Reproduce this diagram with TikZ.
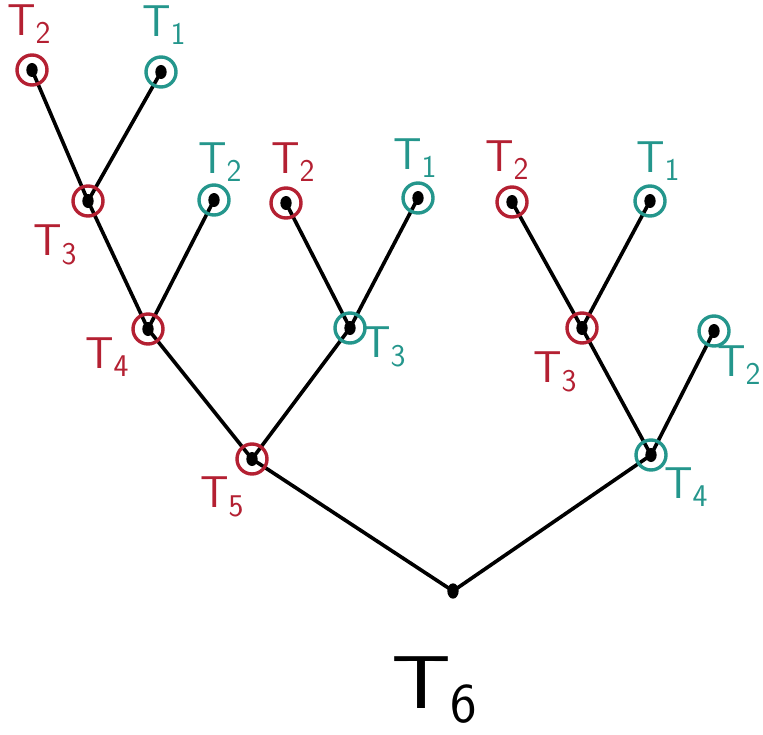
\documentclass[tikz,border=0pt]{standalone}
\usepackage{tikz}
\usetikzlibrary{positioning, backgrounds, shapes.geometric}

\definecolor{tred}{RGB}{180,32,50}
\definecolor{tteal}{RGB}{36,150,140}

% tree label: T with lowered index
\newcommand{\tlab}[1]{T\kern-0.5pt\raisebox{-0.45ex}{\fontsize{27}{27}\selectfont #1}}

\begin{document}
\begin{tikzpicture}[x=0.03cm, y=-0.03cm,
  vtx/.style={circle, inner sep=0pt, minimum size=0.9cm, line width=2.9pt,
              path picture={\fill[black] (path picture bounding box.center) ellipse (0.17cm and 0.21cm);}},
  redv/.style={vtx, draw=tred},
  tealv/.style={vtx, draw=tteal},
  rootv/.style={ellipse, fill=black, inner sep=0pt, minimum width=0.34cm, minimum height=0.46cm},
  edge/.style={line width=3.1pt, black},
  lbl/.style={font=\sffamily\fontsize{38}{38}\selectfont, inner sep=0pt},
  lred/.style={lbl, text=tred},
  lteal/.style={lbl, text=tteal},
]
\useasboundingbox (0,0) rectangle (763,734);

% Root
\node[rootv] (root) at (453,591) {};
\node[font=\sffamily\fontsize{64}{64}\selectfont, inner sep=0pt] (troot) at (434,690)
  {\scalebox{1.25}[1]{T}\kern-1pt\raisebox{-0.45ex}{\fontsize{48}{48}\selectfont 6}};

% Left subtree
\node[redv] (a5) at (252,459) {};
\node[redv] (a4) at (148,329) {};
\node[tealv] (a3t) at (350,328) {};
\node[redv] (a3) at (88,201) {};
\node[tealv] (a2t) at (214,200) {};
\node[redv] (l1) at (32,70) {};
\node[tealv] (l2) at (161,72) {};
\node[redv] (m1) at (286,203) {};
\node[tealv] (m2) at (418,198) {};

% Right subtree
\node[tealv] (b4) at (651,455) {};
\node[redv] (b3) at (582,328) {};
\node[tealv] (b2) at (714,331) {};
\node[redv] (r1) at (512,202) {};
\node[tealv] (r2) at (650,201) {};

% Labels
\node[lred] (ta5) at (222,497) {\tlab{5}};
\node[lred] (ta4) at (107,357) {\tlab{4}};
\node[lteal] (ta3t) at (384,347) {\tlab{3}};
\node[lred] (ta3) at (55,245) {\tlab{3}};
\node[lteal] (ta2t) at (220,162) {\tlab{2}};
\node[lred] (tl1) at (29,24) {\tlab{2}};
\node[lteal] (tl2) at (164,25) {\tlab{1}};
\node[lred] (tm1) at (293,162) {\tlab{2}};
\node[lteal] (tm2) at (415,158) {\tlab{1}};
\node[lteal] (tb4) at (686,487) {\tlab{4}};
\node[lred] (tb3) at (555,372) {\tlab{3}};
\node[lteal] (tb2) at (739,365) {\tlab{2}};
\node[lred] (tr1) at (507,160) {\tlab{2}};
\node[lteal] (tr2) at (658,161) {\tlab{1}};

% Edges
\begin{pgfonlayer}{background}
  \draw[edge] (root.center) -- (a5.center);
  \draw[edge] (root.center) -- (b4.center);
  \draw[edge] (a5.center) -- (a4.center);
  \draw[edge] (a5.center) -- (a3t.center);
  \draw[edge] (a4.center) -- (a3.center);
  \draw[edge] (a4.center) -- (a2t.center);
  \draw[edge] (a3.center) -- (l1.center);
  \draw[edge] (a3.center) -- (l2.center);
  \draw[edge] (a3t.center) -- (m1.center);
  \draw[edge] (a3t.center) -- (m2.center);
  \draw[edge] (b4.center) -- (b3.center);
  \draw[edge] (b4.center) -- (b2.center);
  \draw[edge] (b3.center) -- (r1.center);
  \draw[edge] (b3.center) -- (r2.center);
\end{pgfonlayer}

\end{tikzpicture}
\end{document}
